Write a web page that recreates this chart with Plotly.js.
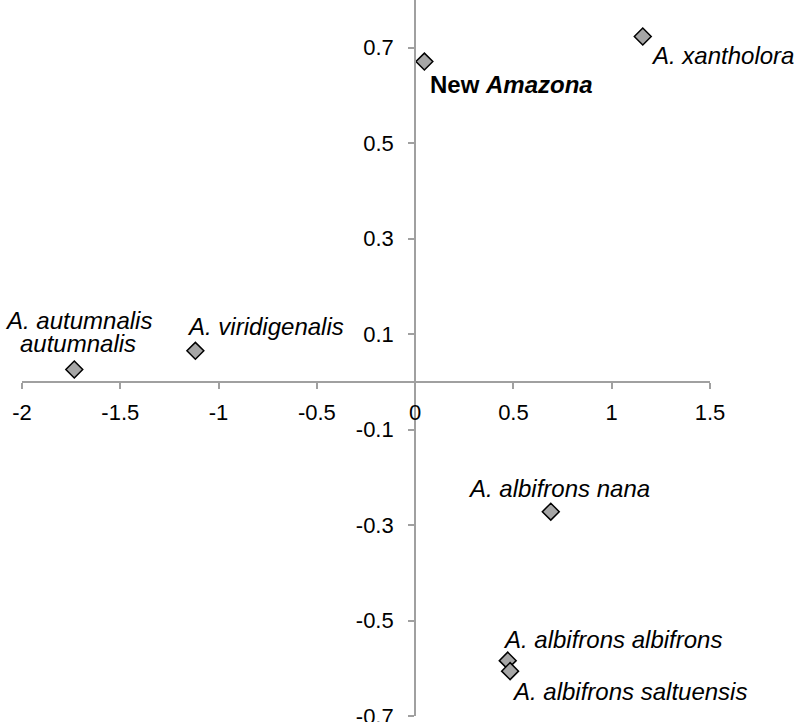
<!DOCTYPE html>
<html>
<head>
<meta charset="utf-8">
<script src="https://cdn.plot.ly/plotly-3.0.1.min.js"></script>
<style>
html,body{margin:0;padding:0;background:#fff;}
#chart{width:798px;height:722px;}
</style>
</head>
<body>
<div id="chart"></div>
<script>
// ---- data ----
const taxa = [
  "New <i>Amazona</i>",
  "A. xantholora",
  "A. autumnalis<br>autumnalis",
  "A. viridigenalis",
  "A. albifrons nana",
  "A. albifrons albifrons",
  "A. albifrons saltuensis"
];
const dim1 = [0.047, 1.158, -1.734, -1.118, 0.690, 0.471, 0.483];
const dim2 = [0.671, 0.7235, 0.026, 0.065, -0.272, -0.584, -0.606];
const boldLabel = [true, false, false, false, false, false, false];

const xTickVals = [-2, -1.5, -1, -0.5, 0, 0.5, 1, 1.5];
const xTickText = ["-2", "-1.5", "-1", "-0.5", "0", "0.5", "1", "1.5"];
const yTickVals = [-0.7, -0.5, -0.3, -0.1, 0.1, 0.3, 0.5, 0.7];
const yTickText = ["-0.7", "-0.5", "-0.3", "-0.1", "0.1", "0.3", "0.5", "0.7"];

// ---- label placement (style, not data) ----
const labelPlace = [
  {anchor: "left",   dx: 4,   dy: -23},
  {anchor: "left",   dx: 6,   dy: -19},
  {anchor: "center", dx: 4,   dy: 48.5},
  {anchor: "left",   dx: -10, dy: 24},
  {anchor: "center", dx: 8,   dy: 23},
  {anchor: "left",   dx: -7,  dy: 21},
  {anchor: "left",   dx: 0,   dy: -20}
];
const lineGap = 23;

const xRange = [-2, 1.5];
const yRange = [-0.7, 0.8];
const axisColor = "#a0a0a0";
const labelFont = {family: "Liberation Sans, Arial, sans-serif", size: 24, color: "#000"};

const annotations = [];
taxa.forEach((t, i) => {
  const lines = t.split("<br>");
  const p = labelPlace[i];
  lines.forEach((ln, k) => {
    let txt = boldLabel[i] ? "<b>" + ln + "</b>" : "<i>" + ln + "</i>";
    annotations.push({
      x: dim1[i], y: dim2[i], xref: "x", yref: "y",
      text: txt, showarrow: false,
      xanchor: p.anchor, yanchor: "middle",
      xshift: p.dx, yshift: p.dy - k * lineGap,
      font: labelFont
    });
  });
});

const trace = {
  x: dim1, y: dim2, type: "scatter", mode: "markers",
  marker: {symbol: "diamond", size: 13, color: "#a6a6a6", line: {color: "#000", width: 1.5}},
  hoverinfo: "skip", cliponaxis: false
};

const tickFont = {family: "Liberation Sans, Arial, sans-serif", size: 22, color: "#000"};
const layout = {
  width: 798, height: 722,
  margin: {l: 22, r: 88, t: 0, b: 6},
  paper_bgcolor: "#fff", plot_bgcolor: "#fff",
  showlegend: false,
  xaxis: {
    range: xRange, anchor: "free",
    position: (0 - yRange[0]) / (yRange[1] - yRange[0]),
    showgrid: false, zeroline: false, showline: true,
    linecolor: axisColor, linewidth: 2,
    ticks: "outside", ticklen: 6, tickwidth: 2, tickcolor: axisColor,
    tickvals: xTickVals, ticktext: xTickText, tickfont: tickFont,
    ticklabelstandoff: 5, ticklabeloverflow: "allow"
  },
  yaxis: {
    range: yRange, anchor: "free",
    position: (0 - xRange[0]) / (xRange[1] - xRange[0]),
    showgrid: false, zeroline: false, showline: true,
    linecolor: axisColor, linewidth: 2,
    ticks: "outside", ticklen: 6, tickwidth: 2, tickcolor: axisColor,
    tickvals: yTickVals, ticktext: yTickText, tickfont: tickFont,
    ticklabelstandoff: 10, ticklabeloverflow: "allow"
  },
  annotations: annotations
};

Plotly.newPlot("chart", [trace], layout, {displayModeBar: false, staticPlot: true});
</script>
</body>
</html>
